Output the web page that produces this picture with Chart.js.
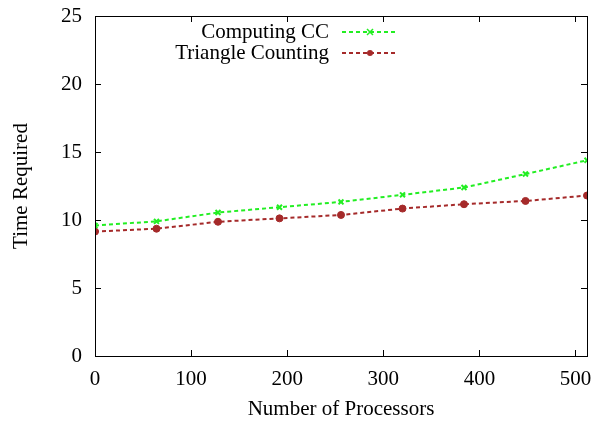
<!DOCTYPE html>
<html>
<head>
<meta charset="utf-8">
<script src="https://cdn.jsdelivr.net/npm/chart.js@4.4.1/dist/chart.umd.min.js"></script>
<style>
  html, body { margin: 0; padding: 0; background: #fff; }
  #wrap { width: 596px; height: 422px; }
</style>
</head>
<body>
<div id="wrap"><canvas id="chart"></canvas></div>
<script>
const processors = [0, 64, 128, 192, 256, 320, 384, 448, 512];
const ccTimes = [9.6, 9.9, 10.55, 10.94, 11.33, 11.85, 12.39, 13.38, 14.39];
const triTimes = [9.15, 9.36, 9.87, 10.12, 10.37, 10.84, 11.16, 11.4, 11.8];
const yTicks = [0, 5, 10, 15, 20, 25];
const xTicks = [0, 100, 200, 300, 400, 500];

const FONT = '"Liberation Serif", "Times New Roman", serif';
const FONT_SIZE = 21;

// gnuplot style frame: full border and inward ticks on all four sides
const framePlugin = {
    id: 'frame',
    afterDraw(chart) {
        const { ctx, chartArea: a, scales } = chart;
        const len = 6;
        ctx.save();
        ctx.strokeStyle = '#000';
        ctx.lineWidth = 1;
        ctx.strokeRect(a.left + 0.5, a.top + 0.5, a.right - a.left, a.bottom - a.top);
        ctx.beginPath();
        yTicks.forEach(v => {
            const y = Math.round(scales.y.getPixelForValue(v)) + 0.5;
            ctx.moveTo(a.left, y); ctx.lineTo(a.left + len, y);
            ctx.moveTo(a.right, y); ctx.lineTo(a.right - len, y);
        });
        xTicks.forEach(v => {
            const x = Math.round(scales.x.getPixelForValue(v)) + 0.5;
            ctx.moveTo(x, a.bottom); ctx.lineTo(x, a.bottom - len);
            ctx.moveTo(x, a.top); ctx.lineTo(x, a.top + len);
        });
        ctx.stroke();
        ctx.restore();
    }
};

// key drawn like gnuplot: label right-aligned, then line sample with point
const keyPlugin = {
    id: 'key',
    afterDraw(chart) {
        const { ctx } = chart;
        ctx.save();
        ctx.font = FONT_SIZE + 'px ' + FONT;
        ctx.textAlign = 'right';
        ctx.textBaseline = 'middle';
        chart.data.datasets.forEach((ds, i) => {
            const y = 32 + i * 21;
            ctx.fillStyle = '#000';
            ctx.fillText(ds.label, 329, y);
            ctx.strokeStyle = ds.borderColor;
            ctx.lineWidth = 2;
            ctx.setLineDash([4, 3]);
            ctx.beginPath();
            ctx.moveTo(342, y); ctx.lineTo(398, y);
            ctx.stroke();
            ctx.setLineDash([]);
            ctx.fillStyle = ds.pointBackgroundColor;
            ctx.strokeStyle = ds.pointBorderColor;
            if (ds.pointStyle === 'circle') {
                ctx.beginPath();
                ctx.arc(370, y, 3, 0, Math.PI * 2);
                ctx.fill();
            } else {
                ctx.lineWidth = 1.5;
                ctx.beginPath();
                ctx.moveTo(367, y - 3); ctx.lineTo(373, y + 3);
                ctx.moveTo(367, y + 3); ctx.lineTo(373, y - 3);
                ctx.stroke();
            }
        });
        ctx.restore();
    }
};

new Chart(document.getElementById('chart'), {
    type: 'line',
    data: {
        datasets: [
            {
                label: 'Computing CC',
                data: processors.map((p, i) => ({ x: p, y: ccTimes[i] })),
                borderColor: '#22ee22',
                borderWidth: 2,
                borderDash: [4, 3],
                pointStyle: 'crossRot',
                pointRadius: 3.5,
                pointBorderWidth: 2,
                pointBorderColor: '#22ee22',
                pointBackgroundColor: '#22ee22',
                tension: 0,
                fill: false
            },
            {
                label: 'Triangle Counting',
                data: processors.map((p, i) => ({ x: p, y: triTimes[i] })),
                borderColor: '#a52a2a',
                borderWidth: 2,
                borderDash: [4, 3],
                pointStyle: 'circle',
                pointRadius: 3.5,
                pointBorderWidth: 1,
                pointBorderColor: '#a52a2a',
                pointBackgroundColor: '#a52a2a',
                tension: 0,
                fill: false
            }
        ]
    },
    options: {
        responsive: true,
        maintainAspectRatio: false,
        animation: false,
        layout: { padding: { top: 16, right: 9, left: 0, bottom: 0 } },
        plugins: {
            legend: { display: false },
            tooltip: { enabled: false }
        },
        scales: {
            x: {
                type: 'linear',
                min: 0,
                max: 512,
                afterBuildTicks: (scale) => { scale.ticks = xTicks.map(v => ({ value: v })); },
                afterFit: (scale) => {
                    scale.height = 66;
                    scale.paddingLeft = 0;
                    scale.paddingRight = 0;
                },
                grid: { display: false, drawTicks: false },
                border: { display: false },
                ticks: { color: '#000', font: { family: FONT, size: FONT_SIZE }, padding: 11, maxRotation: 0 },
                title: { display: true, text: 'Number of Processors', color: '#000', font: { family: FONT, size: FONT_SIZE }, padding: { top: 4, bottom: 0 } }
            },
            y: {
                min: 0,
                max: 25,
                afterBuildTicks: (scale) => { scale.ticks = yTicks.map(v => ({ value: v })); },
                afterFit: (scale) => {
                    scale.width = 95;
                    scale.paddingTop = 0;
                    scale.paddingBottom = 0;
                },
                grid: { display: false, drawTicks: false },
                border: { display: false },
                ticks: { color: '#000', font: { family: FONT, size: FONT_SIZE }, padding: 13 },
                title: { display: true, text: 'Time Required', color: '#000', font: { family: FONT, size: FONT_SIZE }, padding: { top: 9, bottom: 0 } }
            }
        }
    },
    plugins: [framePlugin, keyPlugin]
});
</script>
</body>
</html>
